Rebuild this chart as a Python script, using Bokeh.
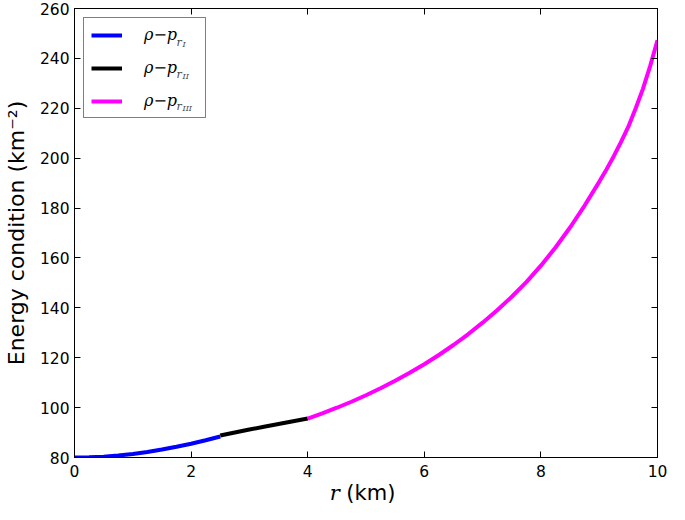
from bokeh.plotting import figure
from bokeh.layouts import column
from bokeh.models import Range1d, FixedTicker, LinearAxis, Legend, LegendItem, Label, Div
from bokeh.embed import file_html
from bokeh.resources import INLINE

# ---- data ----
r_I = [0.0, 0.25, 0.5, 0.75, 1.0, 1.25, 1.5, 1.75, 2.0, 2.25, 2.5]
e_I = [80.0, 80.1, 80.3, 80.8, 81.4, 82.2, 83.2, 84.3, 85.5, 86.9, 88.4]

r_II = [2.5, 2.75, 3.0, 3.25, 3.5, 3.75, 4.0]
e_II = [88.8, 90.0, 91.2, 92.3, 93.4, 94.5, 95.6]

r_III = [4.0, 4.25, 4.5, 4.75, 5.0, 5.25, 5.5, 5.75, 6.0, 6.25, 6.5, 6.75,
         7.0, 7.25, 7.5, 7.75, 8.0, 8.25, 8.5, 8.75, 9.0, 9.125, 9.25, 9.375,
         9.5, 9.625, 9.75, 9.875, 10.0]
e_III = [95.6, 97.7, 99.95, 102.35, 104.95, 107.75, 110.75, 113.95, 117.4, 121.1, 125.1, 129.4,
         134.05, 139.05, 144.45, 150.3, 156.9, 164.2, 172.2, 181.0, 190.5, 195.5, 200.8, 206.5,
         212.6, 219.9, 227.8, 237.0, 247.3]

x_ticks = [0, 2, 4, 6, 8, 10]
y_ticks = [80, 100, 120, 140, 160, 180, 200, 220, 240, 260]
legend_main = "\u03c1\u2212p"
legend_subs = ["I", "II", "III"]
colors = ["#0000ff", "#000000", "#ff00ff"]

W = 669
H1, H2 = 482, 22
BL, BR, BT, BB = 68, 12, 8, 25
FW, FH = W - BL - BR, H1 - BT - BB

p = figure(width=W, height=H1, output_backend="svg", toolbar_location=None,
           x_range=Range1d(0, 10), y_range=Range1d(80, 260),
           min_border_left=BL, min_border_right=BR, min_border_top=BT, min_border_bottom=BB)
p.xgrid.visible = False
p.ygrid.visible = False
p.outline_line_color = "black"
p.outline_line_width = 1
p.background_fill_color = "white"
p.border_fill_color = "white"

tick_font = "15.5px"
for ax in (p.xaxis[0], p.yaxis[0]):
    ax.major_tick_in = 6
    ax.major_tick_out = 0
    ax.minor_tick_line_color = None
    ax.major_label_text_font = "DejaVu Sans"
    ax.major_label_text_font_size = tick_font
    ax.major_label_text_color = "black"
    ax.axis_line_color = "black"
    ax.major_tick_line_color = "black"
p.xaxis[0].ticker = FixedTicker(ticks=x_ticks)
p.yaxis[0].ticker = FixedTicker(ticks=y_ticks)
p.xaxis[0].major_label_standoff = 7
p.yaxis[0].major_label_standoff = 5
p.xaxis[0].axis_label = None
p.yaxis[0].axis_label = "Energy condition (km\u207b\u00b2)"
p.yaxis[0].axis_label_text_font = "DejaVu Sans"
p.yaxis[0].axis_label_text_font_size = "22px"
p.yaxis[0].axis_label_text_font_style = "normal"
p.yaxis[0].axis_label_text_color = "black"
p.yaxis[0].axis_label_standoff = 8

for side, tk in (("above", x_ticks), ("right", y_ticks)):
    ax = LinearAxis(ticker=FixedTicker(ticks=tk), major_tick_in=6, major_tick_out=0,
                    minor_tick_line_color=None, major_label_text_font_size="0px",
                    major_label_text_color=None,
                    major_label_standoff=0, axis_line_color="black")
    p.add_layout(ax, side)

# ---- curves ----
r1 = p.line(r_I, e_I, line_color=colors[0], line_width=4)
r2 = p.line(r_II, e_II, line_color=colors[1], line_width=4)
r3 = p.line(r_III, e_III, line_color=colors[2], line_width=4)

legend = Legend(items=[LegendItem(label=legend_main, renderers=[r]) for r in (r1, r2, r3)],
                location="top_left", margin=9, padding=7, spacing=14,
                glyph_width=31, glyph_height=18, label_height=18, label_width=54,
                label_standoff=22, label_text_font="DejaVu Serif",
                label_text_font_style="italic", label_text_font_size="16px",
                label_text_color="black",
                border_line_color="black", border_line_width=1,
                background_fill_color="white", background_fill_alpha=0)
p.add_layout(legend)

# subscripts r_I, r_II, r_III next to the legend texts
for k, sub in enumerate(legend_subs):
    cy = FH - (25 + 32 * k)
    x0 = 69
    p.add_layout(Label(x=x0 + 33, y=cy - 9, x_units="screen", y_units="screen",
                       text="r", text_font="DejaVu Serif",
                       text_font_style="italic", text_font_size="11px",
                       text_baseline="alphabetic", text_align="left"))
    p.add_layout(Label(x=x0 + 39, y=cy - 11, x_units="screen", y_units="screen",
                       text=sub, text_font="DejaVu Serif",
                       text_font_style="italic", text_font_size="8px",
                       text_baseline="alphabetic", text_align="left"))

# x axis label: italic r + (km), centred under the plot frame
xlabel_html = (
    '<div style="width:%dpx;height:%dpx;line-height:%dpx;text-align:center;'
    'font-size:21px;color:black;padding-left:%dpx;padding-right:%dpx;'
    'box-sizing:border-box;white-space:nowrap;overflow:visible">'
    '<span style="font-family:\'DejaVu Serif\';font-style:italic">r</span>'
    '<span style="font-family:\'DejaVu Sans\'"> (km)</span></div>'
) % (W, H2, H2, BL, BR)
xlabel = Div(text=xlabel_html, width=W, height=H2, margin=(0, 0, 0, 0))

layout = column(p, xlabel, spacing=0)
open("out.html", "w").write(file_html(layout, INLINE))
